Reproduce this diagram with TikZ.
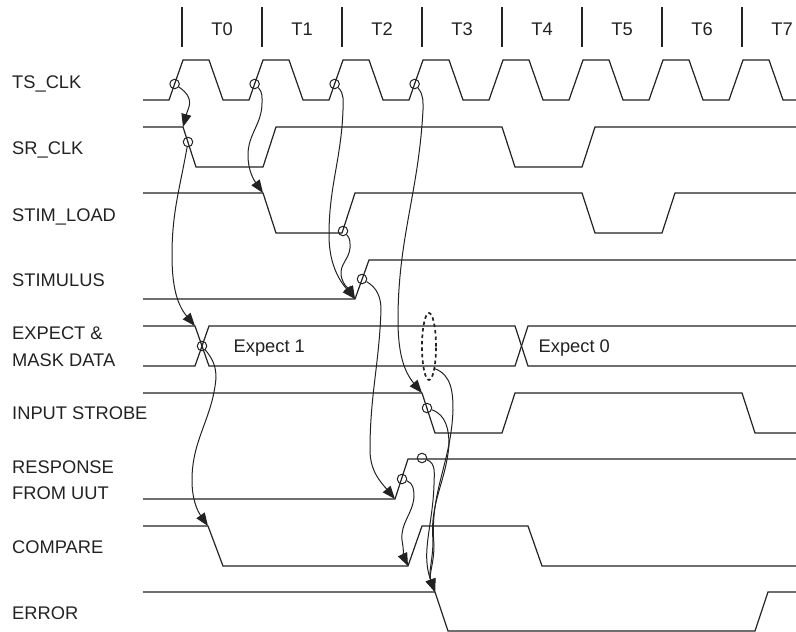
\documentclass[tikz,border=0pt]{standalone}
\usepackage{fontspec}
\setmainfont{Liberation Sans}
\usetikzlibrary{arrows.meta,shapes.geometric}
\definecolor{ink}{HTML}{222222}
\begin{document}
\begin{tikzpicture}[x=1pt,y=1pt,
  sig/.style={draw=ink,line width=1.2pt,line join=miter},
  tick/.style={draw=ink,line width=1.1pt},
  conn/.style={draw=ink,line width=1pt,-{Triangle[length=13pt,width=10pt]}},
  circ/.style={draw=ink,circle,line width=1pt,minimum size=9.5pt,inner sep=0pt},
  lab/.style={anchor=base west,inner sep=0pt,text=ink,font=\fontsize{18.3}{21}\selectfont},
  tlab/.style={anchor=base,inner sep=0pt,text=ink,font=\fontsize{18.3}{21}\selectfont}]
\useasboundingbox (0,0) rectangle (796,-632);

% time ticks and labels
\foreach \k in {0,...,7}{
  \draw[tick] ({182+80*\k},-7) -- ({182+80*\k},-47);
  \node[tlab] (T\k) at ({222+80*\k},-35.5) {T\k};
}

% signal names
\node[lab] (nTS)  at (12,-88.5)  {TS\_CLK};
\node[lab] (nSR)  at (12,-154.5) {SR\_CLK};
\node[lab] (nSL)  at (12,-221.5) {STIM\_LOAD};
\node[lab] (nST)  at (12,-286.5) {STIMULUS};
\node[lab] (nEX1) at (12,-339.5) {EXPECT \&};
\node[lab] (nEX2) at (12,-366.5) {MASK DATA};
\node[lab] (nIS)  at (12,-419.5) {INPUT STROBE};
\node[lab] (nRS1) at (12,-473.5) {RESPONSE};
\node[lab] (nRS2) at (12,-499.5) {FROM UUT};
\node[lab] (nCP)  at (12,-553.5) {COMPARE};
\node[lab] (nER)  at (12,-619.5) {ERROR};

% TS_CLK
\draw[sig] (143,-100) \foreach \k in {0,...,7}{
  -- ({169+80*\k},-100) -- ({183+80*\k},-60) -- ({209+80*\k},-60) -- ({223+80*\k},-100)} -- (796,-100);

% SR_CLK
\coordinate (sr0) at (183,-127);
\draw[sig] (143,-127) -- (sr0) -- (196,-167) -- (263,-167) -- (276,-127) -- (502,-127)
  -- (515,-167) -- (582,-167) -- (595,-127) -- (796,-127);

% STIM_LOAD
\coordinate (sl0) at (263,-193);
\draw[sig] (143,-193) -- (sl0) -- (276,-233) -- (342,-233) -- (355,-193) -- (582,-193)
  -- (595,-233) -- (662,-233) -- (675,-193) -- (796,-193);

% STIMULUS
\coordinate (st0) at (355,-299);
\draw[sig] (143,-299) -- (st0) -- (369,-260) -- (796,-260);

% EXPECT & MASK DATA
\coordinate (ex0) at (195,-326);
\draw[sig] (143,-326) -- (ex0) -- (209,-366) -- (515,-366) -- (528,-326) -- (796,-326);
\draw[sig] (143,-366) -- (195,-366) -- (209,-326) -- (515,-326) -- (528,-366) -- (796,-366);
\node[tlab,anchor=base west] (e1) at (233.5,-352.5) {Expect 1};
\node[tlab,anchor=base west] (e0) at (538.5,-352.5) {Expect 0};

% INPUT STROBE
\coordinate (is0) at (422,-393);
\draw[sig] (143,-393) -- (is0) -- (435,-433) -- (502,-433) -- (515,-393) -- (742,-393)
  -- (755,-433) -- (796,-433);

% RESPONSE FROM UUT
\coordinate (rs0) at (395,-499);
\draw[sig] (143,-499) -- (rs0) -- (408,-459) -- (796,-459);

% COMPARE
\coordinate (cp0) at (208,-526);
\coordinate (cp1) at (408,-566);
\draw[sig] (143,-526) -- (cp0) -- (223,-566) -- (cp1) -- (422,-526) -- (528,-526)
  -- (542,-566) -- (796,-566);

% ERROR
\coordinate (er0) at (435,-592);
\draw[sig] (143,-592) -- (er0) -- (448,-631) -- (755,-631) -- (768,-592) -- (796,-592);

% event circles
\node[circ] (cA) at (174.6,-84) {};
\node[circ] (cB) at (254.6,-84) {};
\node[circ] (cC) at (334.6,-84) {};
\node[circ] (cD) at (414.6,-84) {};
\node[circ] (cE) at (188,-142) {};
\node[circ] (cF) at (343,-231) {};
\node[circ] (cG) at (362,-279) {};
\node[circ] (cH) at (202,-346) {};
\node[circ] (cI) at (427,-408) {};
\node[circ] (cJ) at (402,-479) {};
\node[circ] (cK) at (422,-458) {};
\node[draw=ink,ellipse,dash pattern=on 3.5pt off 3pt,line width=1.7pt,minimum width=14pt,
  minimum height=67pt,inner sep=0pt] (eL) at (429,-346.5) {};

% causal connectors
\draw[conn] (cA) to[out=-35,in=75,looseness=1.3] (sr0);
\draw[conn] (cB) to[out=-45,in=90] (262,-103) to[out=-90,in=90] (248,-155) to[out=-90,in=125] (sl0);
\draw[conn] (cC) to[out=-45,in=90] (343,-110) to[out=-92,in=90] (329,-235) to[out=-90,in=130] (st0);
\draw[conn] (cF) to[out=-45,in=90] (350,-248) to[out=-95,in=95] (341,-275) to[out=-80,in=120] (st0);
\draw[conn] (cE) to[out=-100,in=90] (172,-255) to[out=-90,in=130] (ex0);
\draw[conn] (cH) to[out=-50,in=90] (216,-378) to[out=-95,in=90] (192,-480) to[out=-90,in=125] (cp0);
\draw[conn] (cG) to[out=-30,in=90] (381,-310) to[out=-92,in=90] (370,-450) to[out=-90,in=130] (rs0);
\draw[conn] (cD) to[out=-50,in=90] (423,-110) to[out=-93,in=90] (398,-320) to[out=-90,in=130] (is0);
\draw[conn] (cJ) to[out=-20,in=90] (414,-497) to[out=-95,in=95] (402,-540) to[out=-80,in=115] (cp1);
\draw[conn] (cK) to[out=-20,in=90] (434,-485) to[out=-92,in=110] (er0);
\draw[conn] (cI) to[out=-20,in=90] (449,-445) to[out=-95,in=95] (433,-540) to[out=-90,in=110] (er0);
\draw[conn] (eL.-75) to[out=-20,in=90] (453,-410) to[out=-92,in=95] (434,-545) to[out=-90,in=110] (er0);
\end{tikzpicture}
\end{document}
